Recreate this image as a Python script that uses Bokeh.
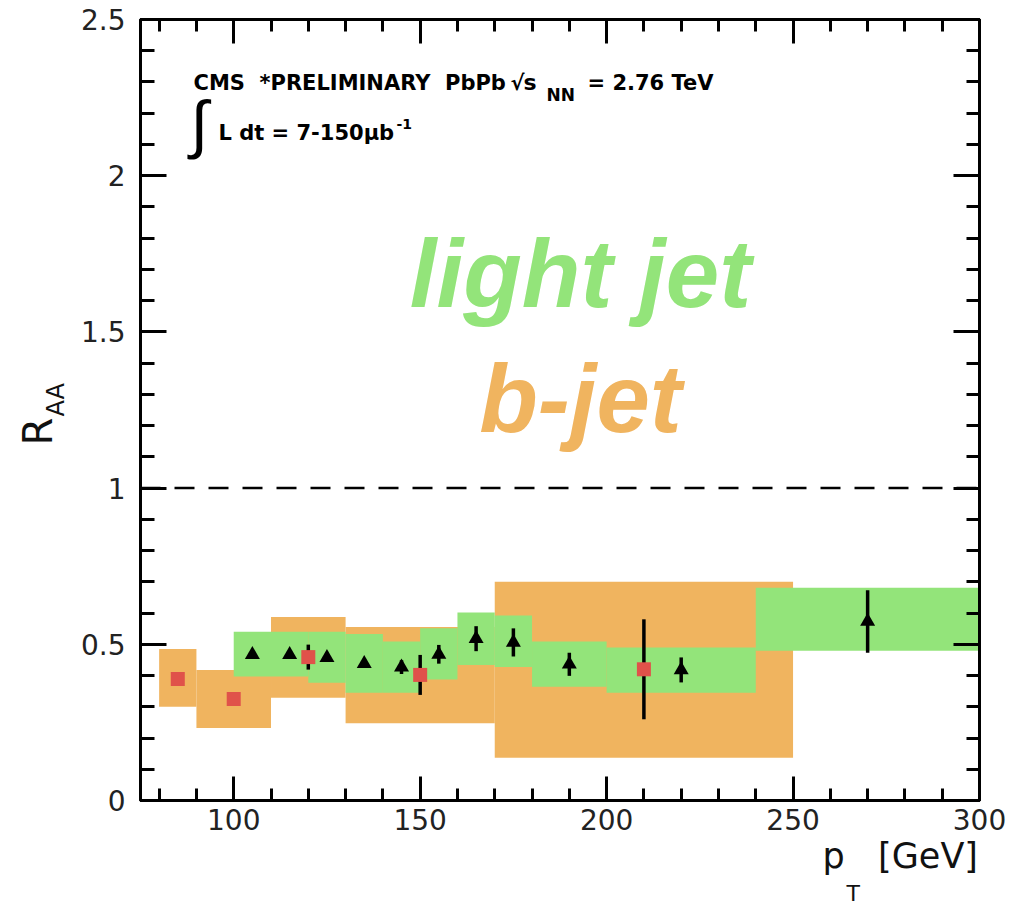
import math
from bokeh.plotting import figure
from bokeh.models import (ColumnDataSource, Range1d, LinearAxis, SingleIntervalTicker,
                          CustomJSTickFormatter, Span, Label)
from bokeh.embed import file_html
from bokeh.resources import INLINE

# ---------------- data ----------------
# light jets (black triangles, green systematic boxes)
lj_pt = [105, 115, 125, 135, 145, 155, 165, 175, 190, 220, 270]
lj_bin_lo = [100, 110, 120, 130, 140, 150, 160, 170, 180, 200, 240]
lj_bin_hi = [110, 120, 130, 140, 150, 160, 170, 180, 200, 240, 300]
lj_raa = [0.467, 0.467, 0.457, 0.438, 0.427, 0.468, 0.518, 0.506, 0.436, 0.418, 0.573]
lj_stat = [0.01, 0.01, 0.01, 0.01, 0.022, 0.03, 0.04, 0.045, 0.037, 0.04, 0.10]
lj_sys_lo = [0.397, 0.397, 0.377, 0.345, 0.345, 0.387, 0.434, 0.427, 0.364, 0.345, 0.479]
lj_sys_hi = [0.540, 0.540, 0.540, 0.533, 0.509, 0.551, 0.602, 0.592, 0.509, 0.490, 0.681]

# b-jets (red squares, orange systematic boxes)
bj_pt = [85, 100, 120, 150, 210]
bj_bin_lo = [80, 90, 110, 130, 170]
bj_bin_hi = [90, 110, 130, 170, 250]
bj_raa = [0.389, 0.325, 0.459, 0.402, 0.420]
bj_stat = [0.01, 0.01, 0.04, 0.064, 0.16]
bj_sys_lo = [0.300, 0.232, 0.329, 0.247, 0.137]
bj_sys_hi = [0.485, 0.418, 0.587, 0.555, 0.700]

unity = 1.0
x_start, x_end = 75, 300
y_start, y_end = 0.0, 2.5

GREEN = "#93E47A"
ORANGE = "#F0B45F"
RED = "#E0524A"

lj = ColumnDataSource(dict(
    pt=lj_pt, lo=lj_bin_lo, hi=lj_bin_hi, raa=lj_raa,
    slo=lj_sys_lo, shi=lj_sys_hi,
    elo=[r - e for r, e in zip(lj_raa, lj_stat)],
    ehi=[r + e for r, e in zip(lj_raa, lj_stat)]))
bj = ColumnDataSource(dict(
    pt=bj_pt, lo=bj_bin_lo, hi=bj_bin_hi, raa=bj_raa,
    slo=bj_sys_lo, shi=bj_sys_hi,
    elo=[r - e for r, e in zip(bj_raa, bj_stat)],
    ehi=[r + e for r, e in zip(bj_raa, bj_stat)]))

p = figure(width=1018, height=906, output_backend="svg", toolbar_location=None,
           x_range=Range1d(x_start, x_end), y_range=Range1d(y_start, y_end),
           min_border_left=140, min_border_right=39, min_border_top=19, min_border_bottom=106)
p.background_fill_color = "white"
p.border_fill_color = "white"
p.xgrid.grid_line_color = None
p.ygrid.grid_line_color = None
p.outline_line_color = "black"
p.outline_line_width = 3

# systematic boxes
p.quad(left="lo", right="hi", bottom="slo", top="shi", source=bj,
       fill_color=ORANGE, line_color=None)
p.quad(left="lo", right="hi", bottom="slo", top="shi", source=lj,
       fill_color=GREEN, line_color=None)

# unity line
p.add_layout(Span(location=unity, dimension="width", line_color="black",
                  line_width=2.5, line_dash="20 14"))

# statistical errors and points
p.segment(x0="pt", y0="elo", x1="pt", y1="ehi", source=bj, line_color="black", line_width=3.5)
p.scatter(x="pt", y="raa", source=bj, marker="square", size=14,
          fill_color=RED, line_color=None)
p.segment(x0="pt", y0="elo", x1="pt", y1="ehi", source=lj, line_color="black", line_width=3.5)
p.scatter(x="pt", y="raa", source=lj, marker="triangle", size=15,
          fill_color="black", line_color=None)

fmt = CustomJSTickFormatter(code="return String(Math.round(tick*10)/10)")
blank = CustomJSTickFormatter(code="return ''")
xt = SingleIntervalTicker(interval=50, num_minor_ticks=5)
yt = SingleIntervalTicker(interval=0.5, num_minor_ticks=5)

def style(ax, major, minor, labels=True):
    ax.axis_line_color = "black"
    ax.axis_line_width = 3
    ax.major_tick_line_width = 3
    ax.minor_tick_line_width = 3
    ax.major_tick_in = major
    ax.major_tick_out = 0
    ax.minor_tick_in = minor
    ax.minor_tick_out = 0
    if labels:
        ax.major_label_text_font = "DejaVu Sans"
        ax.major_label_text_font_size = "28px"
        ax.major_label_text_color = "#222222"
    else:
        ax.major_label_standoff = 0

xa = p.xaxis[0]
xa.ticker = xt
xa.formatter = fmt
style(xa, 24, 12)
xa.major_label_standoff = 8

ya = p.yaxis[0]
ya.ticker = yt
ya.formatter = fmt
style(ya, 26, 14)
ya.major_label_standoff = 15

top = LinearAxis(ticker=SingleIntervalTicker(interval=50, num_minor_ticks=5), formatter=blank)
style(top, 24, 12, labels=False)
p.add_layout(top, "above")
right = LinearAxis(ticker=SingleIntervalTicker(interval=0.5, num_minor_ticks=5), formatter=blank)
style(right, 26, 13, labels=False)
p.add_layout(right, "right")

def lab(text, x, y, size, font="DejaVu Sans", style_="bold", color="black",
        angle=0.0, align="left", place="center"):
    l = Label(x=x, y=y, x_units="screen", y_units="screen", text=text,
              text_font=font, text_font_size=size, text_font_style=style_,
              text_color=color, angle=angle, text_align=align,
              text_baseline="alphabetic")
    p.add_layout(l, place)

# axis titles (placed in the side panels, outside the frame)
lab("AA", 6, 384, "24px", style_="normal", angle=math.pi / 2, color="#111111", place="left")
lab("R", 34, 355, "40px", style_="normal", angle=math.pi / 2, color="#111111", place="left")
lab("p\u00a0\u00a0\u00a0[GeV]", 682, 17, "35px", style_="normal", color="#111111", place="below")
lab("T", 706, 4, "22px", style_="normal", color="#111111", place="below")

# CMS header
lab("CMS\u00a0\u00a0*PRELIMINARY\u00a0\u00a0PbPb", 53, 718, "21px")
lab("\u221a", 370, 718, "21px")
lab("s", 383, 718, "22px")
lab("NN", 406, 706, "17px")
lab("= 2.76 TeV", 447, 718, "21px")
lab("\u222b", 50, 677, "64px", font="Liberation Sans", style_="normal")
lab("L dt = 7-150\u03bcb", 78, 668, "21px")
lab("-1", 256, 677, "14px")

# overlay texts
lab("light jet", 440, 527, "96px", font="Liberation Sans", style_="bold italic",
    color=GREEN, align="center")
lab("b-jet", 440, 402, "96px", font="Liberation Sans", style_="bold italic",
    color=ORANGE, align="center")

open("out.html", "w").write(file_html(p, INLINE))
